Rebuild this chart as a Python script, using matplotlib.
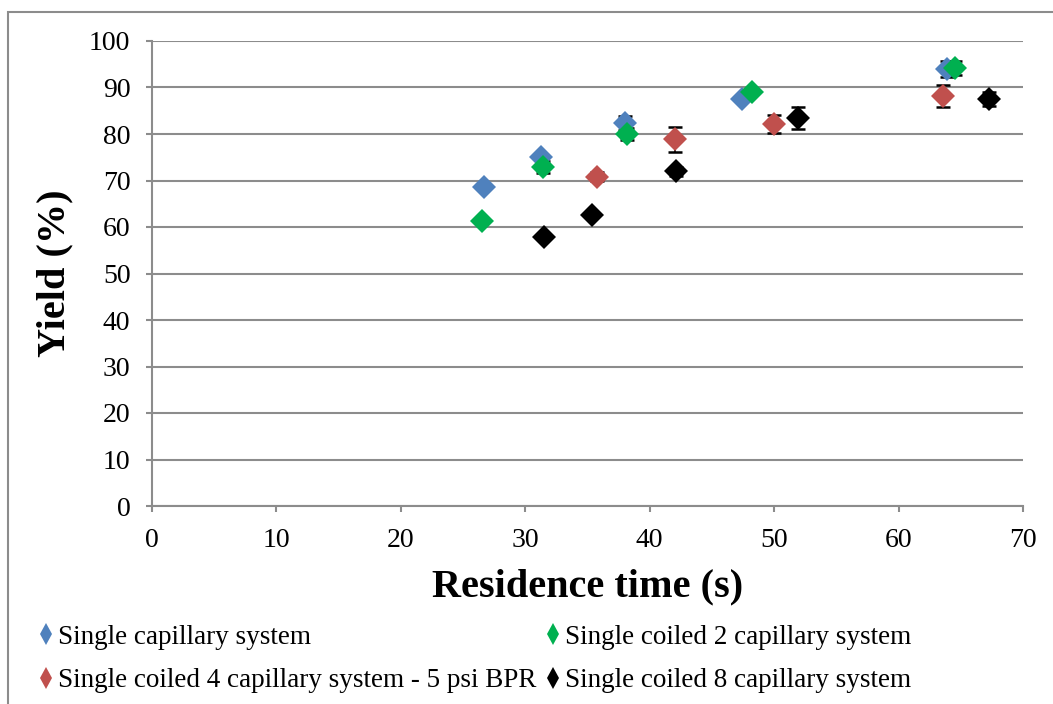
import matplotlib
matplotlib.use("Agg")
import matplotlib.pyplot as plt
from matplotlib.lines import Line2D
from matplotlib.patches import Rectangle

plt.rcParams['font.family'] = ['Liberation Serif', 'DejaVu Serif']

# Data
s1_label = "Single capillary system"
s1_x = [26.7, 31.3, 38.0, 47.4, 63.9]
s1_y = [68.6, 75.1, 82.4, 87.5, 94.0]
s1_err = [0.0, 0.0, 1.5, 0.0, 1.7]

s2_label = "Single coiled 2 capillary system"
s2_x = [26.5, 31.4, 38.2, 48.2, 64.5]
s2_y = [61.3, 72.9, 80.0, 89.0, 94.2]
s2_err = [0.0, 1.2, 1.2, 0.5, 1.5]

s3_label = "Single coiled 4 capillary system - 5 psi BPR"
s3_x = [35.8, 42.0, 50.0, 63.6]
s3_y = [70.8, 78.9, 82.2, 88.2]
s3_err = [1.0, 2.7, 1.9, 2.4]

s4_label = "Single coiled 8 capillary system"
s4_x = [31.5, 35.4, 42.1, 51.9, 67.3]
s4_y = [57.8, 62.6, 72.0, 83.4, 87.5]
s4_err = [0.0, 0.0, 1.0, 2.4, 1.5]

colors = ["#4f81bd", "#00b050", "#c0504d", "#000000"]

W, H = 1053, 704
fig = plt.figure(figsize=(W/100, H/100), dpi=100)
ax = fig.add_axes([152/W, 1-506/H, 871/W, 465/H])

series = [(s1_x, s1_y, s1_err, s1_label), (s2_x, s2_y, s2_err, s2_label),
          (s3_x, s3_y, s3_err, s3_label), (s4_x, s4_y, s4_err, s4_label)]
for (x, y, e, lab), c in zip(series, colors):
    ax.errorbar(x, y, yerr=e, fmt='none', ecolor='black', elinewidth=1.2,
                capsize=5, capthick=1.8, zorder=3)
    ax.plot(x, y, linestyle='none', marker='D', color=c, markersize=12,
            markeredgewidth=0, zorder=4)

ax.set_xlim(0, 70)
ax.set_ylim(0, 100)
ax.set_xticks(range(0, 71, 10))
ax.set_yticks(range(0, 101, 10))
ax.grid(axis='y', color='#8c8c8c', linewidth=1.5)
ax.set_axisbelow(True)
for sp in ['top', 'right']:
    ax.spines[sp].set_visible(False)
for sp in ['left', 'bottom']:
    ax.spines[sp].set_color('#8c8c8c')
    ax.spines[sp].set_linewidth(1.5)
ax.tick_params(axis='both', direction='out', length=4.5, width=1.5, color='#8c8c8c',
               labelsize=20)
ax.tick_params(axis='x', pad=11)
ax.tick_params(axis='y', pad=11)
ax.set_xlabel("Residence time (s)", fontsize=29, fontweight='bold')
ax.set_ylabel("Yield (%)", fontsize=29, fontweight='bold')
ax.xaxis.set_label_coords(0.5, -(587-506)/465, transform=ax.transAxes)
ax.xaxis.label.set_va('center')
ax.yaxis.set_label_coords(-(152-55)/871, 0.5, transform=ax.transAxes)
ax.yaxis.label.set_va('center')

handles = [Line2D([], [], marker='d', linestyle='none', color=c, markersize=11,
                  markeredgewidth=0) for c in colors]
labels = [s[3] for s in series]
order = [0, 2, 1, 3]
leg = fig.legend([handles[i] for i in order], [labels[i] for i in order],
                 ncol=2, loc='upper left', bbox_to_anchor=(27/W, 1-614/H),
                 frameon=False, fontsize=19.5, handlelength=0.6, handletextpad=0.15,
                 columnspacing=0.3, labelspacing=0.68, borderaxespad=0)

fig.patches.append(Rectangle((8/W, -0.1), 1.2, 1-12/H+0.1, transform=fig.transFigure,
                             fill=False, edgecolor='#8c8c8c', linewidth=1.5))

fig.savefig("out.png", dpi=100)
